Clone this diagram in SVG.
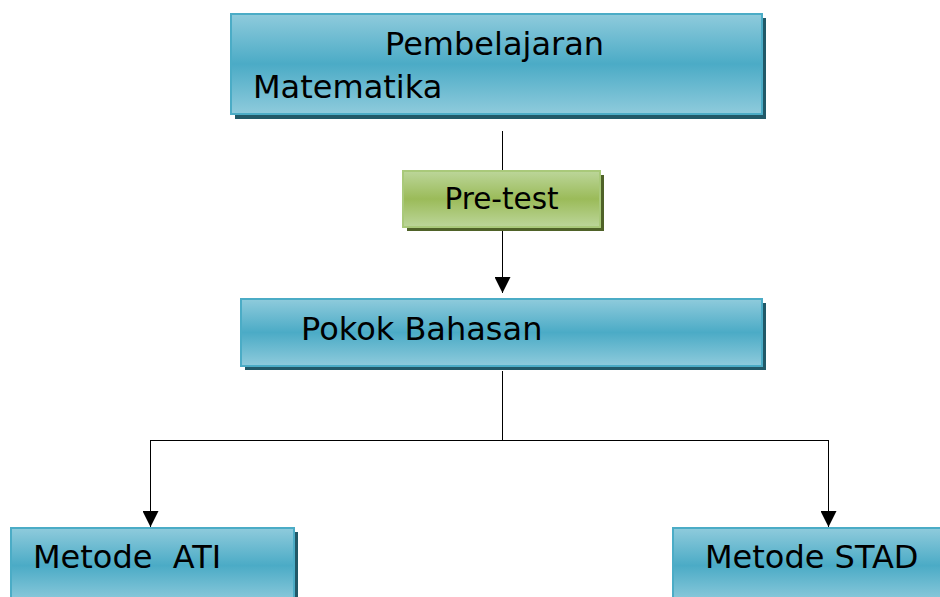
<svg xmlns="http://www.w3.org/2000/svg" width="940" height="597" viewBox="0 0 940 597">
<defs>
<linearGradient id="blue" x1="0" y1="0" x2="0" y2="1">
<stop offset="0" stop-color="#8fcbdc"/>
<stop offset="0.5" stop-color="#4babc6"/>
<stop offset="1" stop-color="#8fcbdc"/>
</linearGradient>
<linearGradient id="green" x1="0" y1="0" x2="0" y2="1">
<stop offset="0" stop-color="#bcd69a"/>
<stop offset="0.5" stop-color="#9bbb59"/>
<stop offset="1" stop-color="#bcd69a"/>
</linearGradient>
<marker id="arr" viewBox="0 0 10 10" refX="10" refY="5" markerWidth="16" markerHeight="16" markerUnits="userSpaceOnUse" orient="auto">
<path d="M0,0 L10,5 L0,10 z" fill="#000"/>
</marker>
</defs>
<style>
.sh{fill:#215968}
.shg{fill:#4f6228}
.b{fill:url(#blue);stroke:#4bacc6;stroke-width:2}
.g{fill:url(#green);stroke:#a9c97a;stroke-width:2}
.t{font-family:"DejaVu Sans",sans-serif;font-size:32px;fill:#000}
.c{fill:none;stroke:#000;stroke-width:1}
</style>
<g id="connectors">
<line class="c" x1="502.5" y1="131" x2="502.5" y2="171"/>
<line class="c" x1="502.5" y1="227" x2="502.5" y2="293" marker-end="url(#arr)"/>
<polyline class="c" points="502.5,371 502.5,440.5"/>
<polyline class="c" points="150.5,440.5 828.5,440.5"/>
<line class="c" x1="150.5" y1="440" x2="150.5" y2="527" marker-end="url(#arr)"/>
<line class="c" x1="828.5" y1="440" x2="828.5" y2="527" marker-end="url(#arr)"/>
</g>
<g id="pembelajaran">
<rect class="sh" x="235" y="18" width="531" height="101"/>
<rect class="b" x="231" y="14" width="531" height="100"/>
<text class="t" x="385" y="55">Pembelajaran</text>
<text class="t" x="253" y="98">Matematika</text>
</g>
<g id="pretest">
<rect class="shg" x="407" y="175" width="197" height="56"/>
<rect class="g" x="403" y="171" width="197" height="56"/>
<text class="t" x="501.5" y="209" text-anchor="middle" style="font-size:29.5px">Pre-test</text>
</g>
<g id="pokok">
<rect class="sh" x="245" y="303" width="521" height="67"/>
<rect class="b" x="241" y="299" width="521" height="67"/>
<text class="t" x="301" y="340">Pokok Bahasan</text>
</g>
<g id="ati">
<rect class="sh" x="15" y="532" width="283" height="70"/>
<rect class="b" x="11" y="528" width="283" height="75"/>
<text class="t" x="33" y="568" xml:space="preserve">Metode  ATI</text>
</g>
<g id="stad">
<rect class="sh" x="677" y="532" width="270" height="70"/>
<rect class="b" x="673" y="528" width="270" height="75"/>
<text class="t" x="705" y="568">Metode STAD</text>
</g>
</svg>
